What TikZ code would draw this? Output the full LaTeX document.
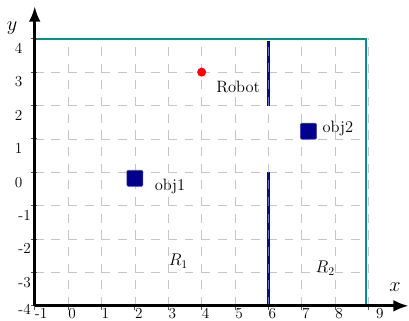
\documentclass[tikz,border=0pt]{standalone}
\usetikzlibrary{arrows.meta}
\definecolor{frameteal}{RGB}{0,145,145}
\definecolor{wallnavy}{RGB}{10,10,140}
\definecolor{wallhi}{RGB}{110,110,200}
\definecolor{objnavy}{RGB}{0,0,140}
\begin{document}
\begin{tikzpicture}[x=1cm,y=1cm,
  gridline/.style={gray!45, line width=0.6pt, dash pattern=on 7.5pt off 6.7pt},
  axisline/.style={black, line width=2.3pt, -{Latex[length=13pt,width=10pt]}},
  frameline/.style={frameteal, line width=1.6pt},
  wallline/.style={wallnavy, line width=3.2pt},
  wallhiline/.style={wallhi, line width=1pt, dash pattern=on 7.5pt off 6.7pt},
  tickline/.style={gray!70!black, line width=0.7pt},
  numlab/.style={inner sep=0pt, font=\fontsize{13}{15}\selectfont},
  txtlab/.style={inner sep=0pt, font=\fontsize{14}{16}\selectfont},
  axlab/.style={inner sep=0pt, font=\fontsize{16}{18}\selectfont},
  objbox/.style={fill=objnavy, draw=objnavy!70!white, line width=0.5pt, rounded corners=1pt, minimum size=0.48cm, inner sep=0pt},
  robotdot/.style={circle, fill=red, inner sep=0pt, minimum size=0.27cm}
]
\useasboundingbox (-2.04,-4.44) rectangle (10.21,5.16);

% grid
\draw[gridline] (-1,-4) grid (9,4);

% frame
\coordinate (fa) at (-1,-4);
\coordinate (fb) at (-1,4);
\coordinate (fc) at (8.93,4);
\coordinate (fd) at (8.93,-4);
\draw[frameline] (fa) -- (fb) -- (fc) -- (fd) -- cycle;

% walls
\coordinate (w1a) at (6,3.94);
\coordinate (w1b) at (6,2);
\coordinate (w2a) at (6,0);
\coordinate (w2b) at (6,-4);
\draw[wallline] (w1a) -- (w1b);
\draw[wallline] (w2a) -- (w2b);
\draw[wallhiline] (w1b) -- (w1a);
\draw[wallhiline] (w2b) -- (w2a);

% ticks
\foreach \i in {-1,...,9} {
  \draw[tickline] (\i,-4.12) -- (\i,-3.94);
}
\foreach \j in {-4,...,4} {
  \draw[tickline] (-1.12,\j) -- (-0.92,\j);
}

% axes
\coordinate (ox) at (-1,-4);
\coordinate (xend) at (10.2,-4);
\coordinate (yend) at (-1,4.97);
\draw[axisline] (ox) -- (xend);
\draw[axisline] (ox) -- (yend);

% tick labels
\foreach \i in {-1,...,8} {
  \node[numlab, anchor=north west] (xl\i) at (\i,-4.06) {\i};
}
\node[numlab, anchor=north west] (xl9) at (9.22,-4.06) {9};
\foreach \j in {0,...,4} {
  \node[numlab, anchor=north east] (yl\j) at (-1.36,\j-0.13) {\j};
}
\foreach \j in {-1,-2,-3} {
  \node[numlab, anchor=north east] (yl\j) at (-1.11,\j-0.13) {\j};
}
\node[numlab, anchor=north east] (ylm4) at (-1.11,-3.95) {-4};

% axis labels
\node[axlab] (xlab) at (9.79,-3.45) {$x$};
\node[axlab] (ylab) at (-1.68,4.32) {$y$};

% robot and objects
\node[robotdot] (robot) at (4,3) {};
\node[txtlab] (robotlab) at (5.09,2.55) {Robot};
\node[objbox] (obj1) at (2,-0.18) {};
\node[txtlab] (obj1lab) at (3.05,-0.42) {obj1};
\node[objbox] (obj2) at (7.2,1.23) {};
\node[txtlab] (obj2lab) at (8.08,1.32) {obj2};

% regions
\node[txtlab] (r1) at (3.3,-2.67) {$R_1$};
\node[txtlab] (r2) at (7.7,-2.88) {$R_2$};
\end{tikzpicture}
\end{document}
